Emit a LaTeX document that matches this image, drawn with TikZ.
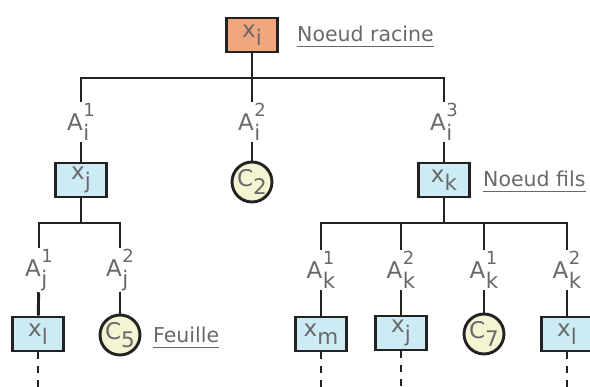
\documentclass[tikz,border=0pt]{standalone}
\usepackage{fontspec}
\setmainfont{DejaVu Sans}
\definecolor{txt}{RGB}{105,105,105}
\definecolor{edge}{RGB}{34,34,34}
\definecolor{rootfill}{RGB}{242,166,126}
\definecolor{boxfill}{RGB}{204,235,245}
\definecolor{leaffill}{RGB}{244,243,210}
\newcommand{\mainsz}{\fontsize{23}{26}\selectfont}
\newcommand{\subsz}{\fontsize{21.5}{24}\selectfont}
\newcommand{\scrsz}{\fontsize{18}{21}\selectfont}
\newcommand{\xsub}[2]{#1\raisebox{-8.5pt}{\subsz #2}}
\newcommand{\ab}[2]{A\hspace{0.5pt}\setbox0\hbox{\raisebox{14pt}{\scrsz #1}}\setbox2\hbox{\raisebox{-9.5pt}{\subsz #2}}\ifdim\wd0>\wd2 \rlap{\box2}\box0\else\rlap{\box0}\box2\fi}
\begin{document}
\begin{tikzpicture}[x=1pt,y=-1pt,
  conn/.style={draw=edge,line width=2.9pt},
  dashconn/.style={conn,dash pattern=on 7pt off 7pt},
  vbox/.style={draw=edge,line width=2.9pt,minimum width=51pt,minimum height=34pt,inner sep=0pt,text=txt,font=\mainsz},
  rootbox/.style={vbox,fill=rootfill},
  kidbox/.style={vbox,fill=boxfill},
  leaf/.style={circle,draw=edge,line width=2.9pt,fill=leaffill,minimum size=40pt,inner sep=0pt,text=txt,font=\mainsz},
  albl/.style={text=txt,font=\mainsz,inner xsep=1pt,inner ysep=1.5pt},
  note/.style={text=txt,font=\fontsize{20.5}{24}\selectfont,inner sep=0pt,anchor=base west}]
\useasboundingbox (0,0) rectangle (590,387);
% nodes
\node[rootbox] (root) at (252,35) {\xsub{x}{i}};
\node[kidbox] (xj) at (81,180) {\xsub{x}{j}};
\node[leaf] (c2) at (252,182) {\xsub{C}{2}};
\node[kidbox] (xk) at (444,180) {\xsub{x}{k}};
\node[kidbox] (xl1) at (38,334) {\xsub{x}{l}};
\node[leaf] (c5) at (120,335) {\xsub{C}{5}};
\node[kidbox] (xm) at (321,334) {\xsub{x}{m}};
\node[kidbox] (xj2) at (401,333) {\xsub{x}{j}};
\node[leaf] (c7) at (484,334) {\xsub{C}{7}};
\node[kidbox] (xl2) at (567,334) {\xsub{x}{l}};
% arc labels
\node[albl] (a1) at (81,122) {\ab{1}{i}};
\node[albl] (a2) at (252,122) {\ab{2}{i}};
\node[albl] (a3) at (444,122) {\ab{3}{i}};
\node[albl] (a4) at (39,270) {\ab{1}{j}};
\node[albl] (a5) at (120,270) {\ab{2}{j}};
\node[albl] (a6) at (321,270) {\ab{1}{k}};
\node[albl] (a7) at (401,270) {\ab{2}{k}};
\node[albl] (a8) at (484,270) {\ab{1}{k}};
\node[albl] (a9) at (567,270) {\ab{2}{k}};
% notes
\node[note] (n1) at (297,42) {Noeud racine};
\node[note] (n2) at (483,187) {Noeud fils};
\node[note] (n3) at (153,343) {Feuille};
\foreach \n in {n1,n2,n3}
  \draw[txt,line width=1.3pt] ([yshift=-4.5pt]\n.base west) -- ([yshift=-4.5pt]\n.base east);
% bus coordinates
\coordinate (b0) at (252,78);
\coordinate (bL) at (81,78);
\coordinate (bR) at (444,78);
\coordinate (j0) at (81,223);
\coordinate (jL) at (39,223);
\coordinate (jR) at (120,223);
\coordinate (k0) at (444,223);
\coordinate (kL) at (321,223);
\coordinate (k2) at (401,223);
\coordinate (k3) at (484,223);
\coordinate (kR) at (567,223);
% connectors
\draw[conn] (root) -- (b0);
\draw[conn] (a1) -- (bL) -- (bR) -- (a3);
\draw[conn] (b0) -- (a2);
\draw[conn] (a1) -- (xj);
\draw[conn] (a2) -- (c2);
\draw[conn] (a3) -- (xk);
\draw[conn] (xj) -- (j0);
\draw[conn] (a4) -- (jL) -- (jR) -- (a5);
\draw[conn] (a4) -- (xl1);
\draw[conn] (a5) -- (c5);
\draw[conn] (xk) -- (k0);
\draw[conn] (a6) -- (kL) -- (kR) -- (a9);
\draw[conn] (k2) -- (a7);
\draw[conn] (k3) -- (a8);
\draw[conn] (a6) -- (xm);
\draw[conn] (a7) -- (xj2);
\draw[conn] (a8) -- (c7);
\draw[conn] (a9) -- (xl2);
% dashed continuations
\coordinate (e1) at (38,387);
\coordinate (e2) at (321,387);
\coordinate (e3) at (401,387);
\coordinate (e4) at (567,387);
\draw[dashconn] (xl1) -- (e1);
\draw[dashconn] (xm) -- (e2);
\draw[dashconn] (xj2) -- (e3);
\draw[dashconn] (xl2) -- (e4);
\end{tikzpicture}
\end{document}
